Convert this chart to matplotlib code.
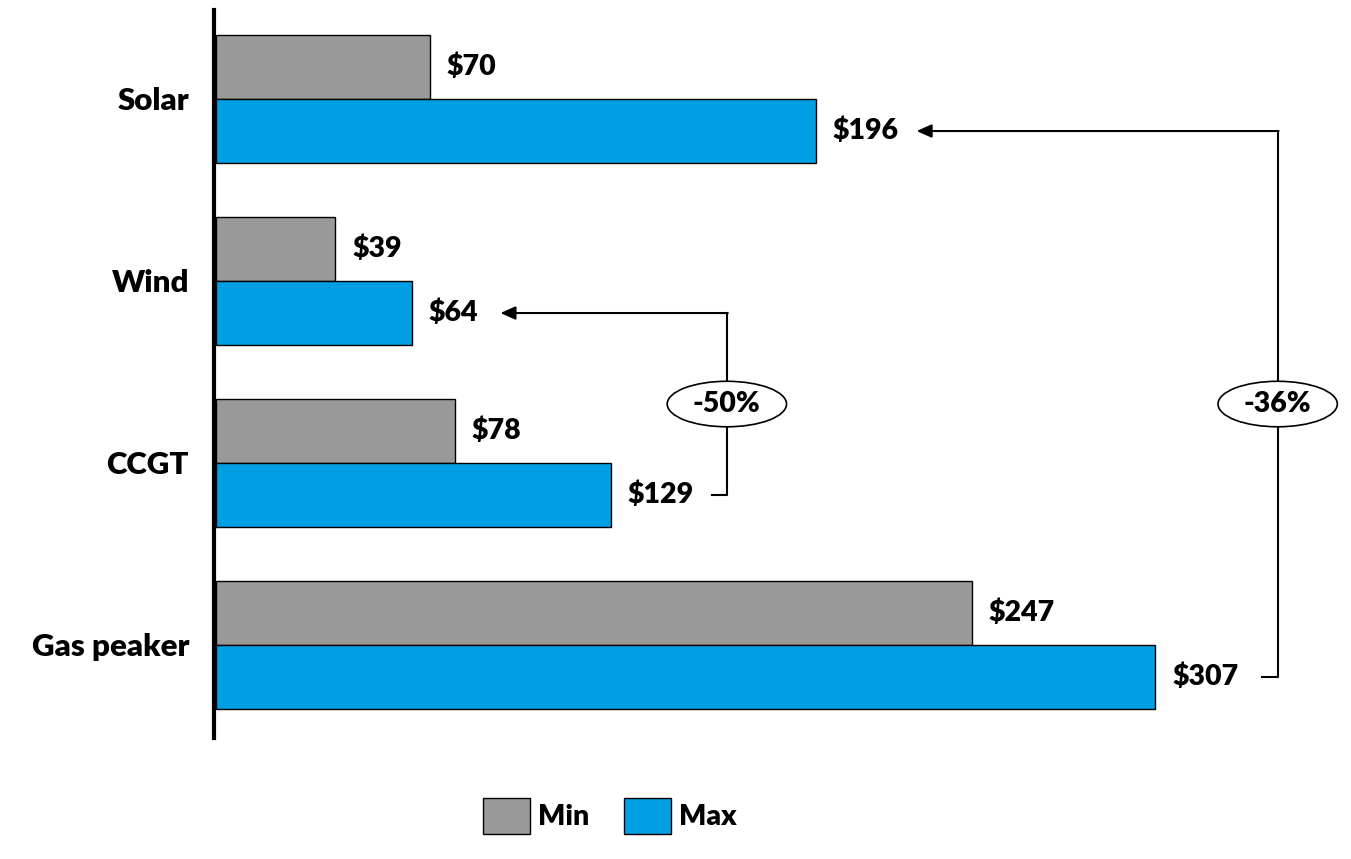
import matplotlib.pyplot as plt
from matplotlib.patches import Ellipse

# data
categories = ['Solar', 'Wind', 'CCGT', 'Gas peaker']
min_vals = [70, 39, 78, 247]
max_vals = [196, 64, 129, 307]

gray = '#999999'
blue = '#009FE3'
plt.rcParams['font.family'] = ['Lato', 'DejaVu Sans']
wt = 'heavy'
fs = 20.5

fig = plt.figure(figsize=(13.51, 8.59), dpi=100)
W, H = 1351, 859
# axes placed in pixel terms
ax = fig.add_axes([214 / W, 1 - 738 / H, (W - 214) / W, 728 / H])

y = list(range(len(categories)))
h = 0.352
ax.barh([i - h / 2 for i in y], min_vals, height=h, color=gray, edgecolor='black', linewidth=1, label='Min')
ax.barh([i + h / 2 for i in y], max_vals, height=h, color=blue, edgecolor='black', linewidth=1, label='Max')

ax.set_xlim(-0.6, (W - 214) / 3.065)
ax.set_ylim(3.511, -0.489)

for i in y:
    ax.text(min_vals[i] + 5.5, i - h / 2, f'${min_vals[i]}', va='center', ha='left', fontsize=fs, fontweight=wt)
    ax.text(max_vals[i] + 5.5, i + h / 2, f'${max_vals[i]}', va='center', ha='left', fontsize=fs, fontweight=wt)

ax.set_yticks(y)
ax.set_yticklabels(categories, fontsize=22.5, fontweight=wt)
ax.tick_params(axis='y', length=0, pad=18)
ax.set_xticks([])
for s in ['top', 'right', 'bottom']:
    ax.spines[s].set_visible(False)
ax.spines['left'].set_linewidth(3)


def bracket(ax, low_i, high_i, x_from, x_to, x_line, text):
    y_low = high_i + h / 2
    y_high = low_i + h / 2
    ax.plot([x_from, x_line, x_line], [y_low, y_low, y_high], color='black', lw=1.5)
    ax.annotate('', xy=(x_to, y_high), xytext=(x_line + 0.3, y_high),
                arrowprops=dict(arrowstyle='-|>,head_length=0.9,head_width=0.4', color='black', lw=1.5,
                                shrinkA=0, shrinkB=0))
    ym = (y_low + y_high) / 2
    ax.add_patch(Ellipse((x_line, ym), 39, 0.25, facecolor='white', edgecolor='black', lw=1.2, zorder=3))
    ax.text(x_line, ym, text, ha='center', va='center', fontsize=fs, fontweight=wt, zorder=4)


# Wind vs CCGT
pct = round((max_vals[1] / max_vals[2] - 1) * 100)
bracket(ax, 1, 2, max_vals[2] + 33, max_vals[1] + 29, max_vals[2] + 38, f'{pct}%')
# Solar vs Gas peaker
pct = round((max_vals[0] / max_vals[3] - 1) * 100)
bracket(ax, 0, 3, max_vals[3] + 35, max_vals[0] + 33, max_vals[3] + 40, f'{pct}%')

fig.legend(loc='upper center', bbox_to_anchor=(610 / W, 1 - 772 / H), ncol=2, frameon=False,
           handlelength=1.65, handleheight=1.6, columnspacing=1.2, handletextpad=0.3,
           prop={'weight': wt, 'size': fs})

fig.savefig('out.png', dpi=100)
